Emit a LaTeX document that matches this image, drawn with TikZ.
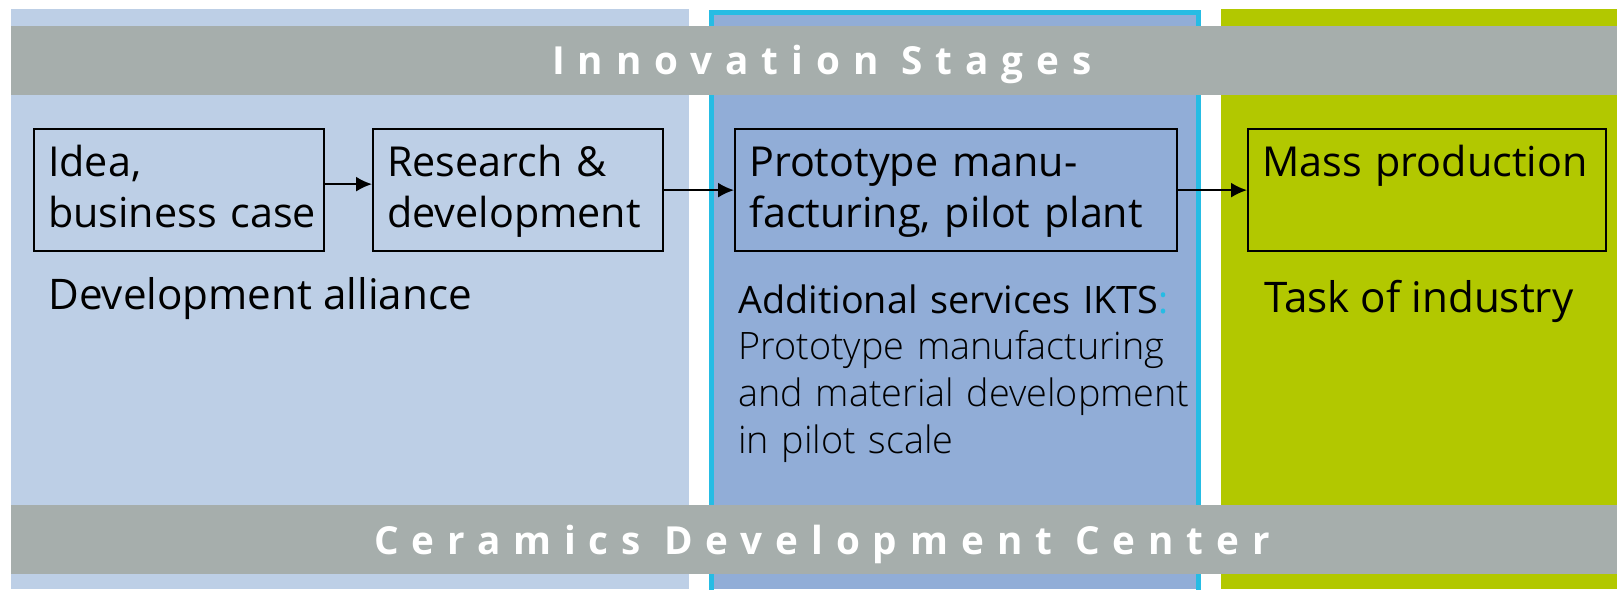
\documentclass[tikz,border=0pt]{standalone}
\usepackage{fontspec}
\setmainfont{Open Sans}
\newfontfamily\lightfont{Open Sans Light}
\newfontfamily\bandfont[LetterSpace=33.5]{Open Sans}
\usetikzlibrary{arrows.meta}

\definecolor{alliance}{RGB}{189,207,230}
\definecolor{pilot}{RGB}{145,173,215}
\definecolor{ikts}{RGB}{38,188,228}
\definecolor{industry}{RGB}{178,200,0}
\definecolor{band}{RGB}{166,174,172}

\newcommand{\stagefont}{\fontsize{23.5}{29.5}\selectfont}
\newcommand{\notefont}{\fontsize{24}{29.5}\selectfont}

\begin{document}
\begin{tikzpicture}[x=0.02cm, y=-0.02cm,
	stagebox/.style={draw, line width=1.3pt, anchor=north west, align=left,
		inner xsep=0.28cm, inner ysep=0.3cm, text height=0.64cm, text depth=1.2cm,
		font=\stagefont},
	stagenote/.style={anchor=base west, inner sep=0pt, font=\notefont},
	bandtext/.style={anchor=base, inner sep=0pt, text=white,
		font=\bandfont\bfseries\fontsize{22}{26}\selectfont},
	>={Latex[length=0.32cm, width=0.3cm]}]

\useasboundingbox (0,0) rectangle (1617,589);

% three columns
\fill[alliance] (11,9) rectangle (689,589);
\fill[pilot] (709,10) rectangle (1201,589);
\draw[ikts, line width=0.1cm] (711.5,600) -- (711.5,12.5) -- (1198.5,12.5) -- (1198.5,600);
\fill[industry] (1221,9) rectangle (1617,589);

% grey bands across
\fill[band] (11,26) rectangle (1617,95);
\fill[band] (11,505) rectangle (1617,574);
\node[bandtext] (stages) at (822,74) {Innovation Stages};
\node[bandtext] (center) at (822,554) {Ceramics Development Center};

% stage boxes
\node[stagebox, text width=5.24cm] (idea) at (33,128) {\mbox{Idea,}\\\mbox{business case}};
\node[stagebox, text width=5.24cm] (research) at (372,128) {\mbox{Research \&}\\\mbox{development}};
\node[stagebox, text width=8.28cm] (prototype) at (734,128) {\mbox{Prototype manu-}\\\mbox{facturing, pilot plant}};
\node[stagebox, text width=6.6cm] (mass) at (1247,128) {\mbox{Mass production}};

\draw[->, line width=1.1pt] ([yshift=0.12cm]idea.east) -- ([yshift=0.12cm]research.west);
\draw[->, line width=1.1pt] (research.east) -- (prototype.west);
\draw[->, line width=1.1pt] (prototype.east) -- (mass.west);

% text under the boxes
\node[stagenote] (alliancenote) at (48,309) {Development alliance};
\node[stagenote, text width=9.8cm, align=left, font=\fontsize{21.5}{26.7}\selectfont]
	(services) at (738,313)
	{\mbox{Additional services IKTS\textcolor{ikts}{:}}\\
	{\lightfont \mbox{Prototype manufacturing}\\\mbox{and material development}\\\mbox{in pilot scale}}};
\node[stagenote] (industrynote) at (1264,312) {Task of industry};

\end{tikzpicture}
\end{document}
